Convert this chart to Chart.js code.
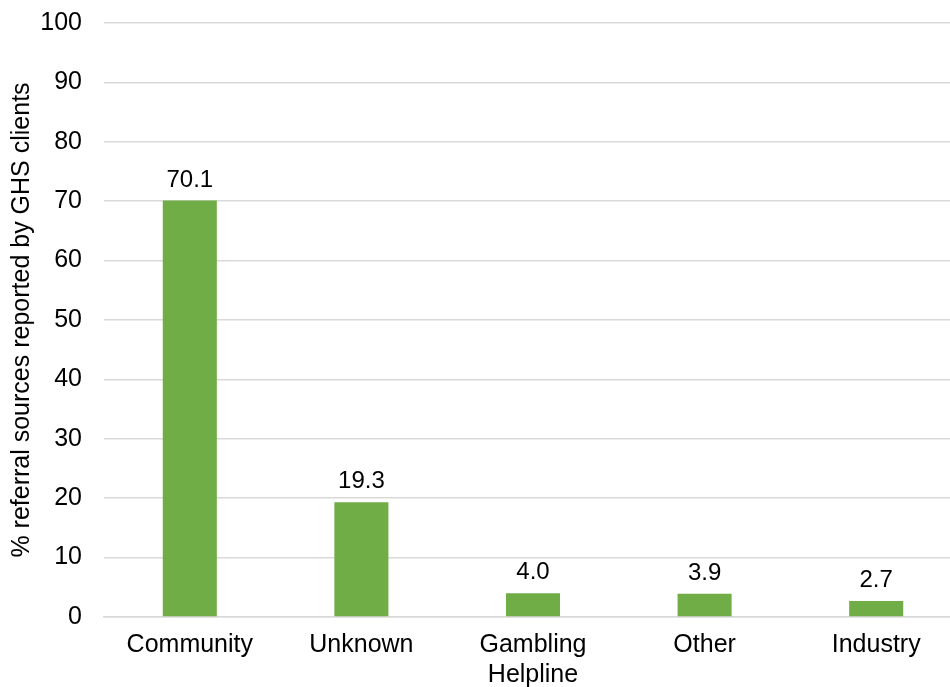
<!DOCTYPE html>
<html lang="en">
<head>
<meta charset="UTF-8">
<title>Referral sources</title>
<script src="https://cdn.jsdelivr.net/npm/chart.js@4.4.0/dist/chart.umd.min.js"></script>
<style>
  html, body { margin: 0; padding: 0; background: #fff; overflow: hidden; }
  #wrap { width: 966px; height: 687px; }
</style>
</head>
<body>
<div id="wrap"><canvas id="refChart" width="966" height="687"></canvas></div>
<script>
// referral source categories and share of clients (%)
const categories = ['Community', 'Unknown', ['Gambling', 'Helpline'], 'Other', 'Industry'];
const percentages = [70.1, 19.3, 4.0, 3.9, 2.7];
const yTicks = [0, 10, 20, 30, 40, 50, 60, 70, 80, 90, 100];

const FONT = '"Liberation Sans", Arial, Helvetica, sans-serif';

// writes the value over each bar
const valueLabels = {
  id: 'valueLabels',
  afterDatasetsDraw(chart) {
    const ctx = chart.ctx;
    const meta = chart.getDatasetMeta(0);
    ctx.save();
    ctx.font = '24px ' + FONT;
    ctx.fillStyle = '#000';
    ctx.textAlign = 'center';
    ctx.textBaseline = 'alphabetic';
    meta.data.forEach((bar, i) => {
      ctx.fillText(percentages[i].toFixed(1), bar.x, bar.y - 14);
    });
    ctx.restore();
  }
};

new Chart(document.getElementById('refChart'), {
  type: 'bar',
  data: {
    labels: categories,
    datasets: [{
      data: percentages,
      backgroundColor: '#70ad47',
      borderWidth: 0,
      barPercentage: 0.315,
      categoryPercentage: 1
    }]
  },
  options: {
    responsive: false,
    animation: false,
    layout: { padding: { top: 23, right: 4, left: 0, bottom: 0 } },
    plugins: {
      legend: { display: false },
      tooltip: { enabled: false }
    },
    scales: {
      x: {
        grid: { display: false, drawTicks: false },
        border: { color: '#d9d9d9', width: 1.5 },
        ticks: {
          color: '#000',
          font: { family: FONT, size: 25 },
          padding: 13,
          maxRotation: 0,
          autoSkip: false
        },
        afterFit(scale) {
          scale.height = 70;
          scale.paddingLeft = 0;
          scale.paddingRight = 0;
        }
      },
      y: {
        min: 0,
        max: 100,
        afterBuildTicks(scale) { scale.ticks = yTicks.map(v => ({ value: v })); },
        grid: { color: '#d9d9d9', lineWidth: 1.5, drawTicks: false },
        border: { display: false },
        ticks: {
          color: '#000',
          font: { family: FONT, size: 25 },
          padding: 22
        },
        title: {
          display: true,
          text: '% referral sources reported by GHS clients',
          color: '#000',
          font: { family: FONT, size: 25 },
          padding: { top: 7, bottom: 0 }
        },
        afterFit(scale) {
          scale.width = 104;
          scale.paddingTop = 0;
          scale.paddingBottom = 0;
        }
      }
    }
  },
  plugins: [valueLabels]
});
</script>
</body>
</html>
